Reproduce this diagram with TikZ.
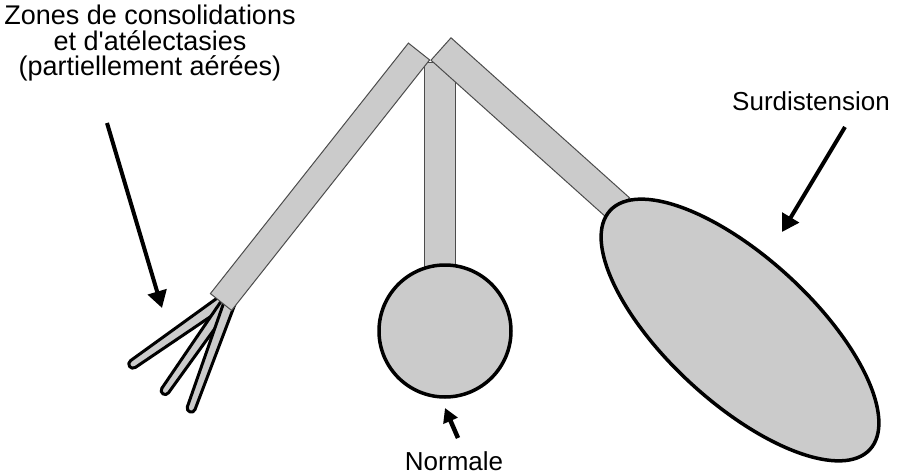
\documentclass[tikz,border=0pt]{standalone}
\usepackage{fontspec}
\setmainfont{Liberation Sans}
\usetikzlibrary{shapes.geometric, arrows.meta}
\definecolor{lunggray}{RGB}{203,203,203}

\begin{document}
\begin{tikzpicture}[x=1pt, y=-1pt,
		tube/.style={draw=black!70, line width=1pt, fill=lunggray},
		sac/.style={draw, line width=3.5pt, fill=lunggray, inner sep=0pt},
		finger/.style={draw, line width=3pt, fill=lunggray, line join=round},
		pointer/.style={line width=4pt, -{Triangle[length=17pt, width=19pt]}}]
		\useasboundingbox (0,0) rectangle (898,474);
		
		\draw[tube] (424,62) rectangle (455,275);
		\node[sac, circle, minimum size=132pt] (n1) at (445,331) {};
		
		\draw[finger] (224.9,292.5) -- (130.6,360.6) .. controls (126.0,363.8) and (130.8,370.6) .. (135.4,367.4) -- (231.7,302.3) -- cycle;
		\draw[finger] (224.5,296.3) -- (161.9,388.2) .. controls (158.8,392.6) and (165.4,397.2) .. (168.5,392.8) -- (233.5,302.7) -- cycle;
		\draw[finger] (224.8,299.7) -- (187.4,406.7) .. controls (185.6,411.7) and (193.2,414.5) .. (195.0,409.5) -- (235.2,303.5) -- cycle;
		
		\draw[tube] (408.4,43.1) -- (429.6,59.9) -- (231.6,310.4) -- (210.4,293.6) -- cycle;
		\draw[tube] (431,60.2) -- (451,37.8) -- (629.5,197.8) -- (609.5,220.2) -- cycle;
		\node[sac, ellipse, minimum width=353pt, minimum height=145pt, rotate=-42.6] (n2) at (740,330) {};
		
		\node[align=center, inner sep=0pt, font=\fontsize{27pt}{25.5pt}\selectfont] (t1) at (150,43.5) {Zones de consolidations\\et d\textquotesingle at\'electasies\\(partiellement a\'er\'ees)};
		\node[anchor=base, inner sep=0pt, font=\fontsize{26pt}{30pt}\selectfont] (t2) at (811,110) {Surdistension};
		\node[anchor=base, inner sep=0pt, font=\fontsize{26pt}{30pt}\selectfont] (t3) at (454,470) {Normale};
		
		\coordinate (a1) at (107,123);
		\coordinate (b1) at (162,308);
		\coordinate (a2) at (845,127);
		\coordinate (b2) at (782,232);
		\coordinate (a3) at (458,438);
		\coordinate (b3) at (445,408);
		
		\draw[pointer] (a1) -- (b1);
		\draw[pointer] (a2) -- (b2);
		\draw[line width=4.5pt, -{Triangle[length=14pt, width=15pt]}] (a3) -- (b3);
\end{tikzpicture}
\end{document}
